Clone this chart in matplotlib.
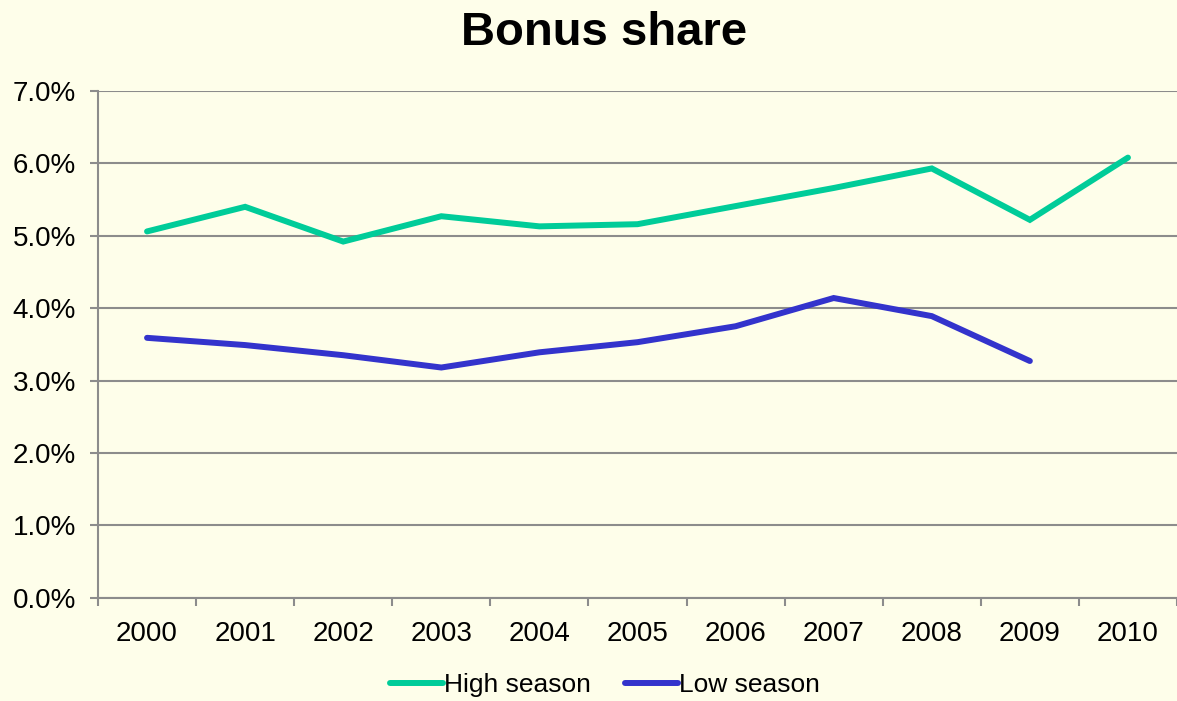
import matplotlib

matplotlib.use("Agg")
import matplotlib.pyplot as plt
from matplotlib.ticker import FuncFormatter, FixedLocator, MultipleLocator

plt.rcParams["font.family"] = ["Liberation Sans", "DejaVu Sans"]

years = ["2000", "2001", "2002", "2003", "2004", "2005",
         "2006", "2007", "2008", "2009", "2010"]
high_season = [5.06, 5.40, 4.92, 5.27, 5.13, 5.16, 5.41, 5.66, 5.93, 5.22, 6.08]
low_season = [3.59, 3.49, 3.35, 3.18, 3.39, 3.53, 3.75, 4.14, 3.89, 3.27]

bg = "#FEFEEA"
grid_col = "#8C8C8C"

fig = plt.figure(figsize=(11.77, 7.01), dpi=100, facecolor=bg)
ax = fig.add_axes([98 / 1177, 1 - 597.7 / 701, 1 - 98 / 1177, (597.7 - 91) / 701])
ax.set_facecolor(bg)

x_high = list(range(len(high_season)))
x_low = list(range(len(low_season)))
ax.plot(x_high, high_season, color="#00CC99", lw=4.3, solid_capstyle="round",
        solid_joinstyle="miter", label="High season")
ax.plot(x_low, low_season, color="#3333CC", lw=4.3, solid_capstyle="round",
        solid_joinstyle="miter", label="Low season")

ax.set_xlim(-0.5, len(years) - 0.5)
ax.set_ylim(0, 7)
ax.yaxis.set_major_locator(MultipleLocator(1))
ax.yaxis.set_major_formatter(FuncFormatter(lambda v, _: f"{v:.1f}%"))
ax.yaxis.grid(True, color=grid_col, lw=1.5)
ax.set_axisbelow(True)

# category labels centred, tick marks between categories
ax.set_xticks(range(len(years)))
ax.set_xticklabels(years)
ax.xaxis.set_minor_locator(FixedLocator([i - 0.5 for i in range(len(years) + 1)]))
ax.tick_params(axis="x", which="major", length=0, pad=17, labelsize=20)
ax.tick_params(axis="x", which="minor", length=6, width=1.5, color=grid_col)
ax.tick_params(axis="y", length=6, width=1.5, color=grid_col, labelsize=20, pad=10)

for side in ("top", "right"):
    ax.spines[side].set_visible(False)
for side in ("left", "bottom"):
    ax.spines[side].set_color(grid_col)
    ax.spines[side].set_linewidth(1.5)

fig.text(0.513, 1 - 33 / 701, "Bonus share", fontsize=34, fontweight="bold",
         ha="center", va="center")

fig.legend(loc="center", bbox_to_anchor=(0.514, 1 - 685 / 701), ncol=2, frameon=False,
           fontsize=19, handlelength=2.0, handletextpad=0.05, columnspacing=1.3)

fig.savefig("out.png", dpi=100, facecolor=bg)
